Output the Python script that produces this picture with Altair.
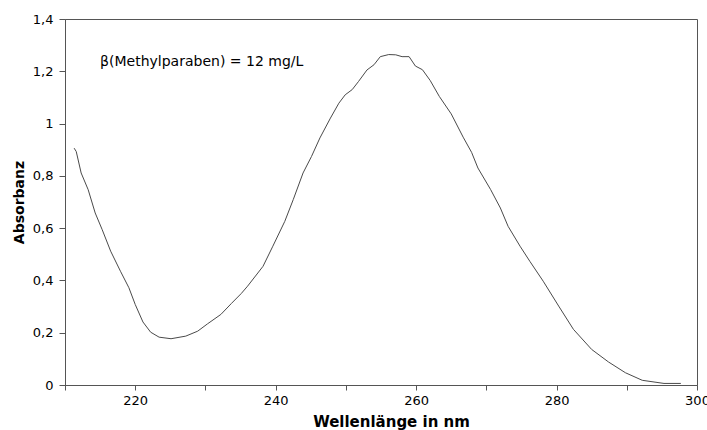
import altair as alt
import pandas as pd

wavelength = [211.3, 211.6, 212.3, 213.3, 214.3, 215.3, 216.5, 217.9, 219.1, 220.0,
              221.1, 222.2, 223.4, 225.1, 227.2, 228.9, 230.3, 232.2, 233.7, 235.1,
              236.0, 238.2, 239.6, 241.3, 242.5, 243.9, 245.1, 246.3, 247.8, 249.0,
              249.9, 250.9, 251.8, 253.0, 254.0, 254.9, 256.1, 257.1, 258.0, 259.0,
              259.9, 260.9, 262.0, 263.3, 265.0, 266.7, 267.9, 268.8, 270.6, 272.0,
              273.1, 274.8, 276.2, 278.1, 280.3, 282.4, 285.0, 287.4, 289.8, 292.2,
              295.3, 297.7]
absorbance = [0.906, 0.893, 0.811, 0.747, 0.658, 0.594, 0.512, 0.435, 0.372, 0.308,
              0.241, 0.202, 0.183, 0.177, 0.187, 0.206, 0.234, 0.270, 0.312, 0.350,
              0.378, 0.454, 0.531, 0.626, 0.709, 0.811, 0.874, 0.945, 1.021, 1.078,
              1.110, 1.130, 1.161, 1.205, 1.225, 1.256, 1.264, 1.263, 1.256, 1.256,
              1.220, 1.206, 1.165, 1.104, 1.037, 0.948, 0.890, 0.830, 0.748, 0.677,
              0.607, 0.531, 0.473, 0.397, 0.302, 0.213, 0.136, 0.088, 0.047, 0.018,
              0.006, 0.006]

x_ticks = list(range(210, 301, 5))
y_ticks = [round(i * 0.05, 2) for i in range(0, 29)]

annotation_text = ["β(Methylparaben) = 12 mg/L"]
annotation_x = [215.0]
annotation_y = [1.236]

df = pd.DataFrame({"wl": wavelength, "abs": absorbance})
ann = pd.DataFrame({"x": annotation_x, "y": annotation_y, "t": annotation_text})

FONT = "DejaVu Sans"

x_scale = alt.Scale(domain=[210, 300], nice=False, zero=False)
y_scale = alt.Scale(domain=[0, 1.4], nice=False)

line = alt.Chart(df).mark_line(color="#4a4a4a", strokeWidth=1).encode(
    x=alt.X("wl:Q", scale=x_scale,
            axis=alt.Axis(title="Wellenlänge in nm", values=x_ticks,
                          labelExpr="(datum.value % 20 == 0 && datum.value > 210) ? datum.label : ''",
                          grid=False, tickSize=5, labelPadding=4, labelFontSize=13,
                          labelFont=FONT, labelColor="#000", titleFont=FONT,
                          titleFontSize=15, titleFontWeight="bold", titleColor="#000",
                          titlePadding=7, titleX=326, domainColor="#555", tickColor="#555",
                          labelFlush=False, labelOverlap=False)),
    y=alt.Y("abs:Q", scale=y_scale,
            axis=alt.Axis(title="Absorbanz", values=y_ticks,
                          labelExpr="abs(datum.value*5 - round(datum.value*5)) < 0.001 ? replace(format(round(datum.value*10)/10, '~g'), '.', ',') : ''",
                          grid=False, tickSize=6, labelPadding=6, labelFontSize=13,
                          labelFont=FONT, labelColor="#000", titleFont=FONT,
                          titleFontSize=14, titleFontWeight="bold", titleColor="#000",
                          titlePadding=6, domainColor="#555", tickColor="#555",
                          labelFlush=False, labelOverlap=False)),
)

text = alt.Chart(ann).mark_text(align="left", baseline="middle", fontSize=14,
                                font=FONT, color="#000").encode(
    x=alt.X("x:Q", scale=x_scale),
    y=alt.Y("y:Q", scale=y_scale),
    text="t:N",
)

chart = alt.layer(line, text).properties(
    width=632, height=366,
    autosize=alt.AutoSizeParams(type="none"),
    padding={"left": 65, "top": 19, "right": 10, "bottom": 45},
    background="white",
).configure_view(stroke="#555", strokeWidth=1)

chart.save("out.html", embed_options={"renderer": "svg", "actions": False})
